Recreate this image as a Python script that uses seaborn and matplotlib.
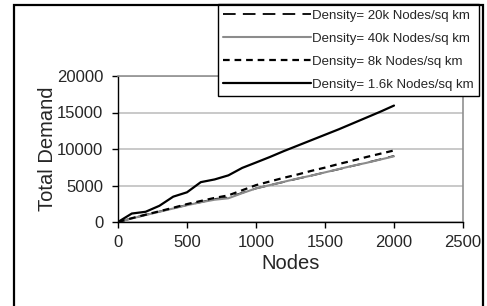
import numpy as np
import pandas as pd
import matplotlib
matplotlib.use("Agg")
import matplotlib.pyplot as plt
import matplotlib.patches as mpatches
import seaborn as sns

nodes = [0, 100, 200, 300, 400, 500, 600, 700, 800, 900, 1000,
         1100, 1200, 1300, 1400, 1500, 1600, 1700, 1800, 1900, 2000]
d20k = [0, 500, 980, 1430, 1880, 2330, 2720, 3150, 3350, 4000, 4600,
        5050, 5480, 5930, 6350, 6800, 7230, 7680, 8120, 8580, 9050]
d40k = [0, 480, 950, 1400, 1850, 2300, 2700, 3050, 3250, 3950, 4600,
        5050, 5500, 5950, 6350, 6800, 7250, 7700, 8100, 8550, 9000]
d8k = [0, 520, 1000, 1470, 1950, 2450, 2880, 3300, 3650, 4350, 5050,
       5550, 6050, 6500, 7000, 7450, 7950, 8400, 8900, 9350, 9800]
d1_6k = [0, 1160, 1400, 2220, 3470, 4070, 5460, 5830, 6390, 7410, 8150,
         8900, 9700, 10450, 11200, 11950, 12700, 13500, 14300, 15100, 15950]

labels = ["Density= 20k Nodes/sq km", "Density= 40k Nodes/sq km",
          "Density= 8k Nodes/sq km", "Density= 1.6k Nodes/sq km"]

sns.set_style("white")
plt.rcParams['font.family'] = ['Liberation Sans', 'DejaVu Sans']

fig = plt.figure(figsize=(4.87, 3.06), dpi=100)
ax = fig.add_axes([118/487, 1 - 222/306, (463 - 118)/487, (222 - 76)/306])

sns.lineplot(x=nodes, y=d20k, ax=ax, color='black', lw=1.3,
             linestyle=(0, (7, 4)), label=labels[0])
sns.lineplot(x=nodes, y=d40k, ax=ax, color='#8c8c8c', lw=1.5,
             label=labels[1])
sns.lineplot(x=nodes, y=d8k, ax=ax, color='black', lw=1.6,
             linestyle=(0, (3, 2.2)), label=labels[2])
sns.lineplot(x=nodes, y=d1_6k, ax=ax, color='black', lw=1.6,
             label=labels[3])

ax.set_xlim(0, 2500)
ax.set_ylim(0, 20000)
ax.set_xticks(range(0, 2501, 500))
ax.set_yticks(range(0, 20001, 5000))
ax.yaxis.grid(True, color='#c0c0c0', lw=1.2)
ax.xaxis.grid(False)
ax.set_axisbelow(True)
ax.tick_params(axis='both', direction='out', length=4.5, width=1,
               color='black', labelsize=12)
ax.tick_params(axis='y', pad=6)
ax.tick_params(axis='x', pad=5)
ax.tick_params(left=True, bottom=True)

for side in ['top', 'right']:
    ax.spines[side].set_color('#909090')
    ax.spines[side].set_linewidth(1.2)
ax.spines['left'].set_color('black')
ax.spines['bottom'].set_color('black')
ax.spines['left'].set_linewidth(1.0)
ax.spines['bottom'].set_linewidth(1.0)

ax.set_xlabel('Nodes', fontsize=14.5, labelpad=3)
ax.set_ylabel('Total Demand', fontsize=14.5, labelpad=0)

leg = ax.legend(loc='upper right', bbox_to_anchor=(479/487, 1 - 4/306),
                bbox_transform=fig.transFigure, fontsize=9.5,
                handlelength=6.6, handletextpad=0.1, labelspacing=0.82,
                borderpad=0.42, borderaxespad=0, fancybox=False,
                framealpha=1, edgecolor='black')
leg.get_frame().set_linewidth(1.0)

# outer chart border
fig.patches.append(mpatches.Rectangle((14/487, -0.05), (483 - 14)/487,
                                      1.05 - 4.5/306, transform=fig.transFigure,
                                      fill=False, edgecolor='black', lw=1.6))

fig.savefig('out.png', dpi=100)
